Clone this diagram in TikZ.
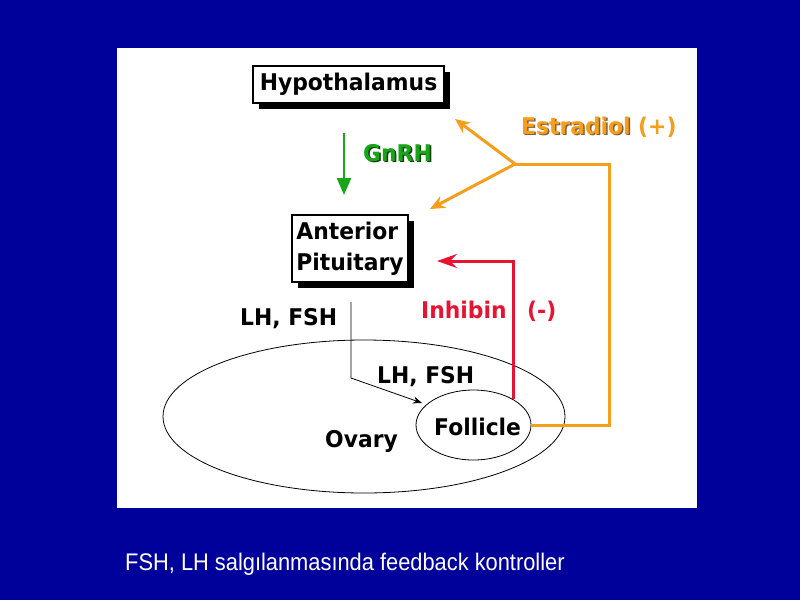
\documentclass[tikz,border=0pt]{standalone}
\usepackage{fontspec}
\usepackage{graphicx}
\newfontfamily\diafont[FakeStretch=0.95]{DejaVu Sans}
\newfontfamily\capfont{Liberation Sans}
\usetikzlibrary{arrows.meta,shapes.geometric,shadows}
\definecolor{bgblue}{RGB}{0,0,155}
\definecolor{orng}{RGB}{245,158,28}
\definecolor{orngshadow}{RGB}{125,95,60}
\definecolor{rd}{RGB}{230,20,50}
\definecolor{grn}{RGB}{25,165,25}
\definecolor{grnshadow}{RGB}{10,60,10}
\newcommand{\shadowtext}[2]{\rlap{\kern1.5pt\raisebox{-1.5pt}{\textcolor{#1}{#2}}}#2}
\begin{document}
\begin{tikzpicture}[x=1pt,y=-1pt,
  lbl/.style={font=\diafont\bfseries\fontsize{23}{31}\selectfont, inner sep=0pt, anchor=base west},
  boxnode/.style={draw=black, line width=1.2pt, fill=white, inner sep=0pt,
    font=\diafont\bfseries\fontsize{23}{31}\selectfont,
    drop shadow={shadow xshift=6pt, shadow yshift=-6pt, fill=black, opacity=1}},
  oval/.style={ellipse, draw=black, line width=0.8pt, inner sep=0pt},
  oline/.style={draw=orng, line width=3pt},
  otip/.style={-{Stealth[length=15pt,width=13pt,inset=5pt]}},
  rline/.style={draw=rd, line width=3pt, -{Stealth[length=20pt,width=14pt,inset=7pt]}},
  gline/.style={draw=grn, line width=2.5pt, -{Triangle[length=17pt,width=14pt]}},
  bline/.style={draw=black, line width=0.8pt, -{Stealth[length=9pt,width=7pt]}}
]
\useasboundingbox[fill=bgblue] (0,0) rectangle (800,600);
\fill[white] (117,48) rectangle (697,508);

% boxes
\node[boxnode, minimum width=191pt, minimum height=37pt] (hyp) at (348.5,84.5) {Hypothalamus};
\node[boxnode, minimum width=116pt, minimum height=67pt, align=left] (pit) at (350,248.5) {Anterior\\Pituitary};

% ellipses
\node[oval, minimum width=402pt, minimum height=153pt] (ovary) at (364,416.5) {};
\node[oval, minimum width=115pt, minimum height=70pt] (foll) at (473.5,425) {};

% labels
\node[lbl, text=grn] (gnrh) at (363,161) {\shadowtext{grnshadow}{GnRH}};
\node[lbl, text=orng] (est) at (521,134) {\shadowtext{orngshadow}{Estradiol}};
\node[lbl, text=orng] (plus) at (638,134) {(+)};
\node[lbl, text=rd] (inh) at (421,318) {Inhibin};
\node[lbl, text=rd] (minus) at (527,318) {(-)};
\node[lbl] (lh1) at (240,325) {LH, FSH};
\node[lbl] (lh2) at (377,383) {LH, FSH};
\node[lbl] (ovt) at (325,447) {Ovary};
\node[lbl] (follt) at (434,435) {Follicle};

% caption
\node[font=\capfont\fontsize{24}{28}\selectfont, text=white, anchor=base west, inner sep=0pt] (cap) at (125,570) {\scalebox{0.91}[1]{FSH, LH salgılanmasında feedback kontroller}};

% coordinates
\coordinate (g1) at (344,133);
\coordinate (g2) at (344,195);
\coordinate (branch) at (515,164);
\coordinate (ocorner) at (609,164);
\coordinate (tipA) at (455,119);
\coordinate (tipB) at (430,209);
\coordinate (redtip) at (437,261);
\coordinate (bl1) at (351,302);
\coordinate (bl2) at (351,378);
\coordinate (bltip) at (422,403);

% connectors
\draw[gline] (g1) -- (g2);
\draw[oline, line join=miter] (foll.east) -| (ocorner) -- (branch);
\draw[oline, otip] (branch) -- (tipA);
\draw[oline, otip] (branch) -- (tipB);
\draw[rline] (foll.33) |- (redtip);
\draw[bline] (bl1) -- (bl2) -- (bltip);
\end{tikzpicture}
\end{document}
